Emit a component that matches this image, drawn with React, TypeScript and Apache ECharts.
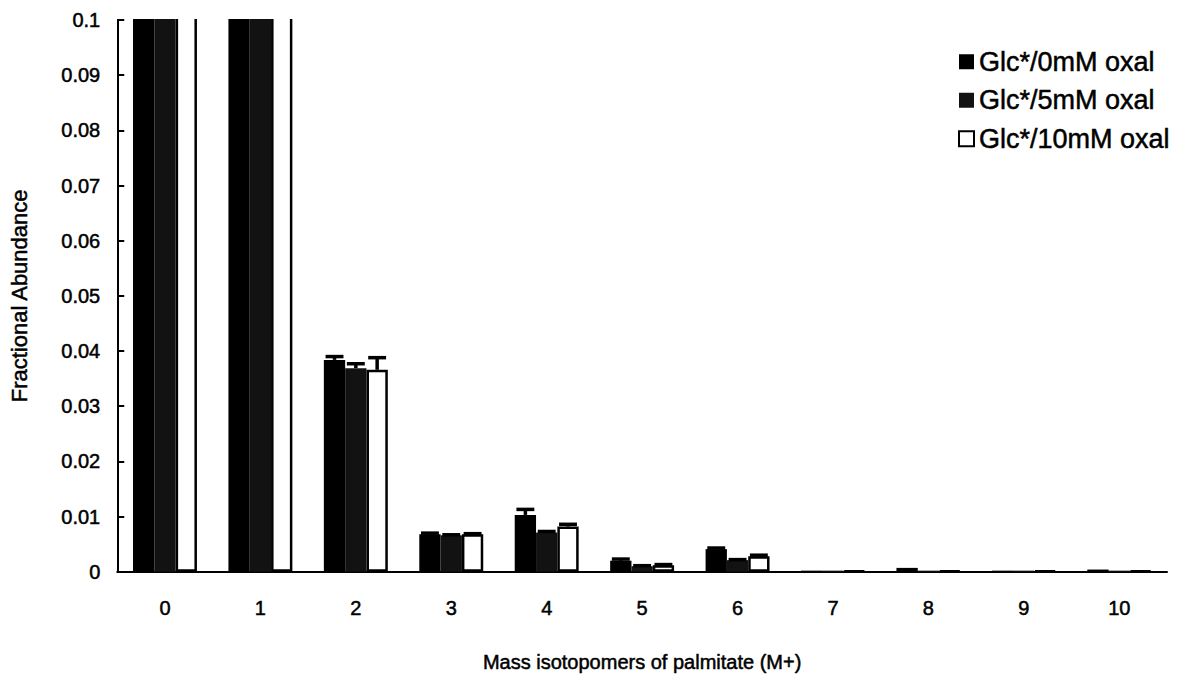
import React, { useEffect, useRef } from "react";
import * as echarts from "echarts";

const categories = ["0", "1", "2", "3", "4", "5", "6", "7", "8", "9", "10"];
const seriesNames = ["Glc*/0mM oxal", "Glc*/5mM oxal", "Glc*/10mM oxal"];
const values0 = [0.62, 0.2, 0.0384, 0.0068, 0.0103, 0.002, 0.0041, 0.0002, 0.0007, 0.0002, 0.0004];
const values5 = [0.63, 0.21, 0.0369, 0.0066, 0.0071, 0.001, 0.0021, 0.0002, 0.0002, 0.0002, 0.0002];
const values10 = [0.63, 0.21, 0.0366, 0.0068, 0.0082, 0.0012, 0.0028, 0.0002, 0.0002, 0.0002, 0.0002];
const errors0 = [0, 0, 0.0006, 0.0002, 0.001, 0.0003, 0.0002, 0, 0, 0, 0];
const errors5 = [0, 0, 0.0008, 0.0001, 0.0002, 0.0001, 0.0001, 0, 0, 0, 0];
const errors10 = [0, 0, 0.0022, 0.0001, 0.0004, 0.0001, 0.0002, 0, 0, 0, 0];
const yTicks = { min: 0, max: 0.1, interval: 0.01 };

const FONT = "'Liberation Sans', Arial, sans-serif";
const GAP = 0.33;
const heavy = { textBorderColor: "#000", textBorderWidth: 0.5 };

export default function App() {
  const ref = useRef<HTMLDivElement>(null);
  useEffect(() => {
    if (!ref.current) return;
    const chart = echarts.init(ref.current, null, { renderer: "svg" });
    const allVals = [values0, values5, values10];
    const allErr = [errors0, errors5, errors10];
    const errData: any[] = [];
    allVals.forEach((vals, si) => {
      vals.forEach((v, ci) => {
        const e = allErr[si][ci];
        if (e > 0 && v < yTicks.max) errData.push([ci, v, e, si]);
      });
    });
    chart.setOption({
      animation: false,
      textStyle: { fontFamily: FONT, color: "#000" },
      grid: { left: 117, right: 13, top: 20, bottom: 94 },
      graphic: [
        {
          type: "rect",
          z: 100,
          shape: { x: 119, y: 0, width: 1061, height: 19 },
          style: { fill: "#fff" },
        },
      ],
      legend: {
        orient: "vertical",
        left: 953,
        top: 43,
        itemWidth: 15,
        itemHeight: 15,
        itemGap: 11,
        icon: "rect",
        textStyle: { fontSize: 27, color: "#000", fontFamily: FONT, ...heavy },
        data: seriesNames,
      },
      xAxis: {
        type: "category",
        data: categories,
        name: "Mass isotopomers of palmitate (M+)",
        nameLocation: "middle",
        nameGap: 80,
        nameTextStyle: { fontSize: 20, color: "#000", fontFamily: FONT, ...heavy },
        axisLine: { lineStyle: { color: "#000", width: 2 } },
        axisTick: { inside: true, length: 7, lineStyle: { color: "#000", width: 2 } },
        axisLabel: { fontSize: 20, color: "#000", margin: 26, fontFamily: FONT, ...heavy },
        splitLine: { show: false },
      },
      yAxis: {
        type: "value",
        min: yTicks.min,
        max: yTicks.max,
        interval: yTicks.interval,
        name: "Fractional Abundance",
        nameLocation: "middle",
        nameGap: 87,
        nameRotate: 90,
        nameTextStyle: { fontSize: 22, color: "#000", fontFamily: FONT, ...heavy },
        axisLine: { show: true, lineStyle: { color: "#000", width: 2 } },
        axisTick: { show: true, inside: true, length: 7, lineStyle: { color: "#000", width: 2 } },
        axisLabel: {
          fontSize: 20,
          color: "#000",
          margin: 17,
          fontFamily: FONT,
          ...heavy,
          formatter: (v: number) => String(+v.toFixed(2)),
        },
        splitLine: { show: false },
      },
      series: [
        {
          name: seriesNames[0],
          type: "bar",
          data: values0,
          barGap: "0%",
          barCategoryGap: GAP * 100 + "%",
          clip: false,
          itemStyle: { color: "#000" },
        },
        {
          name: seriesNames[1],
          type: "bar",
          data: values5,
          barGap: "0%",
          barCategoryGap: GAP * 100 + "%",
          clip: false,
          itemStyle: { color: "#121212" },
        },
        {
          name: seriesNames[2],
          type: "bar",
          data: values10,
          barGap: "0%",
          barCategoryGap: GAP * 100 + "%",
          clip: false,
          itemStyle: { color: "#fff", borderColor: "#000", borderWidth: 2.5 },
        },
        {
          type: "custom",
          data: errData,
          z: 5,
          renderItem: (params: any, api: any) => {
            const ci = api.value(0);
            const v = api.value(1);
            const e = api.value(2);
            const si = api.value(3);
            const band = api.size([1, 0])[0];
            const bw = (band * (1 - GAP)) / 3;
            const base = api.coord([ci, v]);
            const top = api.coord([ci, v + e]);
            const x = base[0] - 1.5 * bw + (si + 0.5) * bw;
            const half = bw * 0.42;
            const style = { stroke: "#000", lineWidth: 3.5 };
            return {
              type: "group",
              children: [
                { type: "line", shape: { x1: x, y1: base[1], x2: x, y2: top[1] }, style },
                { type: "line", shape: { x1: x - half, y1: top[1], x2: x + half, y2: top[1] }, style },
              ],
            };
          },
        },
      ],
    });
    return () => chart.dispose();
  }, []);
  return (
    <div
      ref={ref}
      style={{ position: "fixed", left: 0, top: 0, width: 1180, height: 677, background: "#fff" }}
    />
  );
}
